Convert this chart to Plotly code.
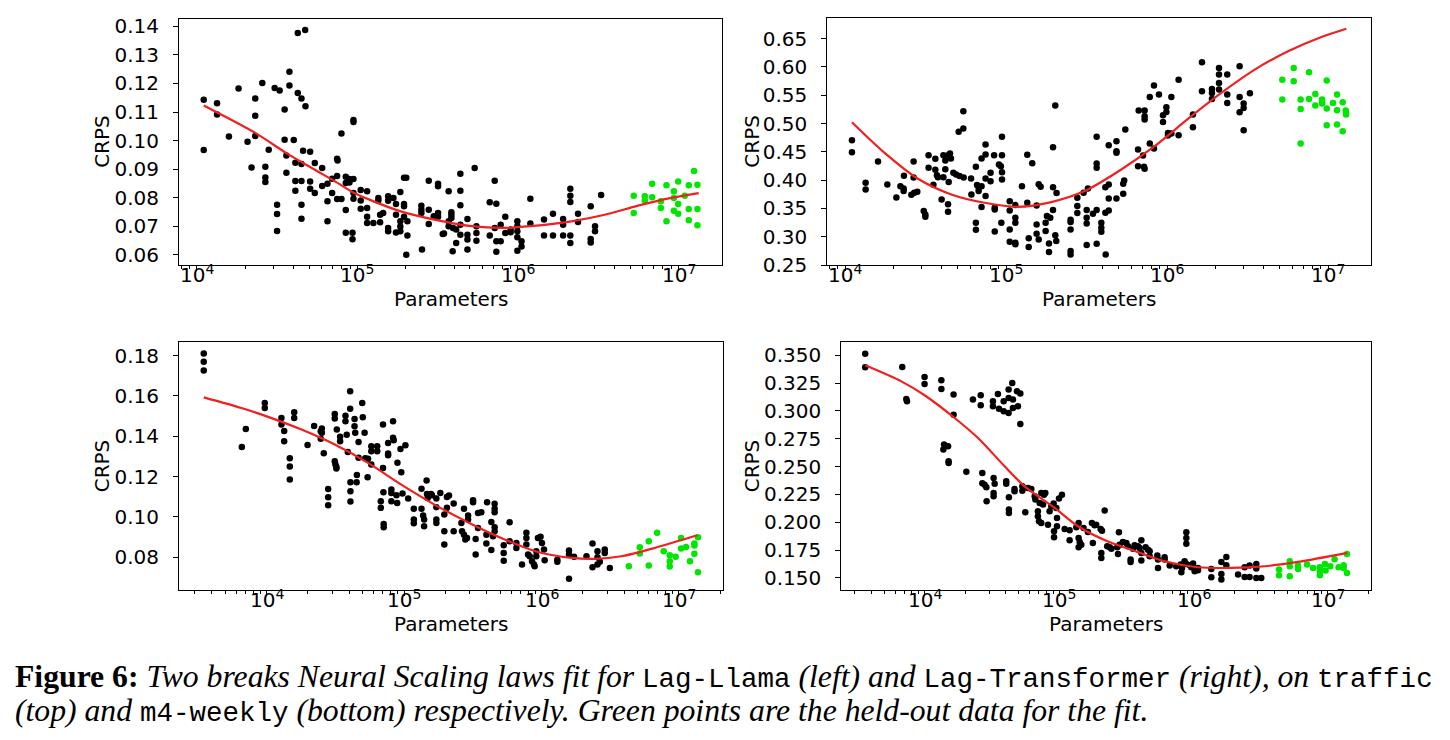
import numpy as np
import plotly.graph_objects as go

W, H = 1450, 740

# ---------------- data: (log10 parameters, CRPS) ----------------
# top-left: Lag-Llama on traffic
tl_black = [(4.042,0.1143),(4.042,0.0967),(4.125,0.1131),(4.125,0.1091),(4.199,0.1014),(4.259,0.1182),(4.315,0.0996),(4.340,0.0906),(4.363,0.1147),(4.363,0.1087),(4.363,0.1016),(4.407,0.1202),(4.426,0.0908),(4.426,0.0871),(4.426,0.0855),(4.447,0.0968),(4.484,0.1184),(4.499,0.0775),(4.499,0.0743),(4.499,0.0683),(4.515,0.1175),(4.546,0.1109),(4.546,0.1003),(4.557,0.0948),(4.557,0.0887),(4.576,0.1241),(4.576,0.1193),(4.603,0.1002),(4.613,0.0922),(4.613,0.0858),(4.613,0.0824),(4.628,0.1377),(4.628,0.1167),(4.651,0.1147),(4.651,0.0918),(4.651,0.0858),(4.651,0.0775),(4.651,0.0726),(4.661,0.0964),(4.674,0.1387),(4.676,0.1120),(4.705,0.0961),(4.705,0.0857),(4.705,0.0831),(4.734,0.0921),(4.734,0.0816),(4.780,0.0904),(4.780,0.0841),(4.813,0.0849),(4.813,0.0787),(4.813,0.0717),(4.842,0.0866),(4.842,0.0816),(4.873,0.0936),(4.876,0.0930),(4.873,0.0876),(4.873,0.0795),(4.900,0.1025),(4.900,0.0795),(4.927,0.0873),(4.927,0.0851),(4.927,0.0757),(4.927,0.0677),(4.950,0.0865),(4.950,0.0853),(4.969,0.0677),(4.969,0.0654),(4.975,0.1072),(4.975,0.1065),(4.975,0.0865),(4.975,0.0816),(4.975,0.0796),(5.020,0.0827),(5.020,0.0790),(5.020,0.0761),(5.060,0.0822),(5.060,0.0764),(5.060,0.0733),(5.060,0.0711),(5.099,0.0711),(5.130,0.0799),(5.130,0.0790),(5.141,0.0740),(5.141,0.0714),(5.160,0.0746),(5.191,0.0805),(5.191,0.0789),(5.191,0.0694),(5.191,0.0682),(5.224,0.0799),(5.240,0.0778),(5.240,0.0740),(5.240,0.0678),(5.267,0.0820),(5.267,0.0717),(5.267,0.0699),(5.267,0.0682),(5.290,0.0870),(5.304,0.0870),(5.290,0.0778),(5.290,0.0770),(5.290,0.0733),(5.311,0.0717),(5.311,0.0667),(5.304,0.0600),(5.398,0.0772),(5.398,0.0758),(5.398,0.0746),(5.402,0.0618),(5.444,0.0859),(5.444,0.0758),(5.444,0.0708),(5.475,0.0735),(5.502,0.0849),(5.502,0.0840),(5.502,0.0746),(5.502,0.0733),(5.531,0.0673),(5.568,0.0822),(5.585,0.0749),(5.585,0.0739),(5.585,0.0729),(5.568,0.0717),(5.568,0.0700),(5.539,0.0674),(5.595,0.0694),(5.615,0.0688),(5.615,0.0641),(5.593,0.0612),(5.641,0.0884),(5.641,0.0824),(5.641,0.0773),(5.641,0.0705),(5.641,0.0670),(5.685,0.0725),(5.685,0.0670),(5.685,0.0653),(5.685,0.0618),(5.730,0.0904),(5.741,0.0700),(5.741,0.0676),(5.741,0.0649),(5.824,0.0784),(5.824,0.0667),(5.855,0.0859),(5.865,0.0779),(5.855,0.0694),(5.865,0.0647),(5.865,0.0610),(5.892,0.0705),(5.892,0.0647),(5.921,0.0733),(5.921,0.0676),(5.954,0.0688),(5.954,0.0679),(5.996,0.0717),(5.996,0.0700),(5.996,0.0682),(5.996,0.0661),(5.996,0.0614),(6.022,0.0647),(6.022,0.0629),(6.077,0.0796),(6.077,0.0709),(6.162,0.0723),(6.162,0.0667),(6.218,0.0744),(6.218,0.0667),(6.281,0.0725),(6.281,0.0705),(6.281,0.0667),(6.326,0.0831),(6.326,0.0807),(6.326,0.0785),(6.326,0.0667),(6.326,0.0641),(6.374,0.0744),(6.374,0.0715),(6.453,0.0770),(6.453,0.0655),(6.453,0.0643),(6.480,0.0700),(6.480,0.0682),(6.518,0.0809)]
tl_green = [(6.721,0.0807),(6.721,0.0746),(6.790,0.0805),(6.790,0.0790),(6.836,0.0849),(6.836,0.0801),(6.890,0.0787),(6.890,0.0764),(6.925,0.0843),(6.925,0.0717),(6.971,0.0822),(6.971,0.0799),(6.971,0.0754),(6.998,0.0857),(6.998,0.0778),(6.998,0.0744),(7.039,0.0807),(7.064,0.0843),(7.064,0.0760),(7.064,0.0721),(7.097,0.0893),(7.118,0.0845),(7.118,0.0760),(7.118,0.0703)]
tl_fit = [(4.042,0.1123),(4.363,0.1027),(4.557,0.0956),(4.734,0.0898),(4.860,0.0857),(4.980,0.0816),(5.100,0.0787),(5.270,0.0752),(5.480,0.0723),(5.710,0.0700),(5.918,0.0694),(6.077,0.0700),(6.333,0.0717),(6.540,0.0740),(6.748,0.0772),(6.956,0.0799),(7.126,0.0816)]

# top-right: Lag-Transformer on traffic
tr_black = [(4.043,0.4706),(4.043,0.4494),(4.128,0.3953),(4.128,0.3835),(4.205,0.4329),(4.263,0.3924),(4.319,0.3694),(4.344,0.3894),(4.364,0.3853),(4.364,0.3806),(4.366,0.4076),(4.412,0.3741),(4.426,0.4329),(4.426,0.4047),(4.430,0.3776),(4.449,0.3794),(4.489,0.3453),(4.499,0.3394),(4.499,0.3353),(4.519,0.4441),(4.519,0.4218),(4.549,0.3918),(4.561,0.4376),(4.561,0.4182),(4.571,0.4088),(4.577,0.4053),(4.600,0.3659),(4.611,0.4441),(4.611,0.4053),(4.623,0.4194),(4.623,0.4347),(4.640,0.4441),(4.652,0.4471),(4.658,0.4382),(4.640,0.3576),(4.640,0.3441),(4.644,0.3965),(4.673,0.4129),(4.690,0.4100),(4.711,0.4071),(4.706,0.4853),(4.735,0.4912),(4.735,0.5218),(4.737,0.4047),(4.783,0.4029),(4.785,0.3747),(4.813,0.4235),(4.813,0.3247),(4.813,0.3124),(4.820,0.3912),(4.830,0.3865),(4.830,0.3806),(4.848,0.4382),(4.848,0.3894),(4.848,0.3524),(4.873,0.4453),(4.873,0.4629),(4.873,0.4029),(4.873,0.3718),(4.904,0.4129),(4.904,0.3982),(4.926,0.4441),(4.930,0.3482),(4.930,0.3512),(4.930,0.3094),(4.956,0.4276),(4.968,0.4247),(4.971,0.3247),(4.975,0.4765),(4.975,0.4441),(4.975,0.4141),(4.975,0.4012),(5.023,0.3629),(5.023,0.3465),(5.023,0.3129),(5.023,0.2912),(5.058,0.3559),(5.058,0.3335),(5.058,0.3247),(5.058,0.2894),(5.058,0.2865),(5.099,0.3894),(5.132,0.4447),(5.132,0.3600),(5.141,0.2971),(5.141,0.2818),(5.163,0.4300),(5.190,0.3553),(5.190,0.3218),(5.190,0.3053),(5.203,0.2953),(5.203,0.3929),(5.215,0.3882),(5.246,0.3247),(5.254,0.3365),(5.246,0.3100),(5.267,0.2882),(5.267,0.2729),(5.275,0.3335),(5.292,0.4582),(5.292,0.3876),(5.292,0.3471),(5.306,0.5318),(5.306,0.3024),(5.312,0.2924),(5.314,0.3771),(5.401,0.3300),(5.401,0.3259),(5.401,0.3129),(5.401,0.2747),(5.401,0.2688),(5.443,0.3688),(5.443,0.3541),(5.443,0.3418),(5.482,0.3776),(5.501,0.3471),(5.501,0.3335),(5.501,0.3235),(5.501,0.2853),(5.509,0.3853),(5.540,0.3406),(5.563,0.4765),(5.563,0.4294),(5.563,0.4218),(5.563,0.3471),(5.563,0.2876),(5.592,0.3247),(5.592,0.3159),(5.592,0.3088),(5.617,0.3876),(5.617,0.3424),(5.619,0.2688),(5.638,0.4618),(5.638,0.3924),(5.638,0.3676),(5.638,0.3465),(5.686,0.4688),(5.686,0.4512),(5.686,0.4482),(5.686,0.3676),(5.728,0.3935),(5.734,0.3994),(5.728,0.3759),(5.741,0.4894),(5.820,0.4541),(5.820,0.4247),(5.824,0.5229),(5.851,0.4435),(5.857,0.4235),(5.861,0.4200),(5.861,0.5229),(5.861,0.5129),(5.861,0.5071),(5.893,0.5471),(5.893,0.4647),(5.919,0.5671),(5.919,0.4559),(5.950,0.5512),(5.975,0.5147),(5.975,0.5029),(5.996,0.5288),(5.996,0.5206),(6.006,0.4835),(6.006,0.4788),(6.027,0.5471),(6.027,0.4824),(6.072,0.5776),(6.072,0.4794),(6.161,0.5159),(6.161,0.4935),(6.217,0.6082),(6.217,0.5571),(6.279,0.5612),(6.279,0.5541),(6.279,0.5435),(6.323,0.5982),(6.323,0.5865),(6.323,0.5718),(6.323,0.5600),(6.374,0.5865),(6.374,0.5512),(6.374,0.5365),(6.451,0.6012),(6.451,0.5471),(6.451,0.5200),(6.476,0.5353),(6.476,0.5276),(6.476,0.4882),(6.515,0.5535)]
tr_green = [(6.716,0.5776),(6.716,0.5424),(6.787,0.5982),(6.787,0.5747),(6.830,0.5424),(6.830,0.5259),(6.830,0.4647),(6.882,0.5906),(6.882,0.5435),(6.921,0.5524),(6.921,0.5318),(6.963,0.5424),(6.963,0.5376),(6.963,0.5353),(6.992,0.5759),(6.992,0.5265),(6.992,0.4971),(7.031,0.5365),(7.056,0.5512),(7.056,0.5235),(7.056,0.4982),(7.091,0.5376),(7.091,0.4865),(7.110,0.5229),(7.112,0.5188),(7.112,0.5159)]
tr_fit = [(4.043,0.5024),(4.246,0.4482),(4.453,0.4024),(4.660,0.3747),(4.867,0.3600),(5.074,0.3529),(5.281,0.3612),(5.488,0.3806),(5.716,0.4188),(5.923,0.4600),(6.130,0.5082),(6.337,0.5541),(6.545,0.5953),(6.752,0.6276),(6.959,0.6529),(7.114,0.6676)]

# bottom-left: Lag-Llama on m4-weekly
bl_black = [(3.543,0.1810),(3.543,0.1769),(3.543,0.1726),(3.820,0.1347),(3.849,0.1436),(3.987,0.1565),(3.987,0.1540),(4.108,0.1491),(4.108,0.1458),(4.128,0.1426),(4.128,0.1375),(4.169,0.1291),(4.169,0.1250),(4.169,0.1185),(4.201,0.1519),(4.201,0.1491),(4.298,0.1357),(4.346,0.1451),(4.394,0.1425),(4.402,0.1438),(4.402,0.1417),(4.394,0.1388),(4.416,0.1316),(4.448,0.1138),(4.448,0.1098),(4.448,0.1058),(4.496,0.1511),(4.496,0.1488),(4.496,0.1276),(4.501,0.1260),(4.508,0.1248),(4.508,0.1240),(4.511,0.1433),(4.535,0.1397),(4.535,0.1375),(4.574,0.1502),(4.574,0.1474),(4.583,0.1407),(4.591,0.1322),(4.608,0.1623),(4.608,0.1536),(4.610,0.1172),(4.610,0.1127),(4.610,0.1076),(4.640,0.1486),(4.640,0.1450),(4.645,0.1417),(4.655,0.1172),(4.657,0.1208),(4.669,0.1372),(4.669,0.1293),(4.696,0.1565),(4.700,0.1494),(4.713,0.1417),(4.718,0.1291),(4.738,0.1288),(4.735,0.1197),(4.762,0.1350),(4.762,0.1326),(4.762,0.1260),(4.805,0.1350),(4.805,0.1326),(4.847,0.1458),(4.847,0.1243),(4.831,0.1078),(4.831,0.1045),(4.850,0.1122),(4.852,0.0965),(4.852,0.0949),(4.884,0.1367),(4.884,0.1314),(4.884,0.1306),(4.908,0.1136),(4.908,0.1119),(4.908,0.1078),(4.920,0.1474),(4.920,0.1392),(4.925,0.1380),(4.952,0.1268),(4.945,0.1108),(4.950,0.1069),(4.974,0.1337),(4.980,0.1221),(4.989,0.1116),(5.010,0.1355),(5.030,0.1091),(5.071,0.1040),(5.071,0.0987),(5.071,0.0969),(5.127,0.1140),(5.127,0.1040),(5.139,0.1007),(5.146,0.0987),(5.146,0.0954),(5.164,0.1180),(5.167,0.1114),(5.172,0.1094),(5.196,0.1114),(5.203,0.1108),(5.235,0.1048),(5.235,0.0987),(5.235,0.0970),(5.235,0.1091),(5.264,0.1119),(5.293,0.0929),(5.293,0.0863),(5.293,0.1012),(5.312,0.1099),(5.312,0.1045),(5.327,0.1106),(5.361,0.1066),(5.361,0.0929),(5.417,0.0970),(5.422,0.0929),(5.436,0.0912),(5.436,0.1040),(5.446,0.0888),(5.458,0.0896),(5.466,0.1007),(5.466,0.0987),(5.502,0.1083),(5.502,0.1073),(5.521,0.0891),(5.521,0.0813),(5.538,0.1020),(5.562,0.1023),(5.538,0.0945),(5.604,0.1073),(5.599,0.0912),(5.599,0.0868),(5.635,0.0975),(5.635,0.0836),(5.659,0.1065),(5.659,0.1041),(5.659,0.1023),(5.659,0.0949),(5.659,0.0929),(5.647,0.0904),(5.725,0.0860),(5.725,0.0821),(5.725,0.0783),(5.768,0.0974),(5.768,0.0879),(5.817,0.0871),(5.817,0.0846),(5.858,0.0764),(5.890,0.0921),(5.890,0.0896),(5.890,0.0863),(5.902,0.0813),(5.914,0.0805),(5.931,0.0780),(5.945,0.0764),(5.950,0.0755),(5.962,0.0830),(5.962,0.0805),(5.974,0.0896),(5.993,0.0901),(6.003,0.0871),(6.018,0.0838),(6.023,0.0785),(6.115,0.0788),(6.115,0.0777),(6.200,0.0833),(6.200,0.0813),(6.200,0.0693),(6.237,0.0802),(6.327,0.0805),(6.371,0.0868),(6.371,0.0750),(6.407,0.0830),(6.407,0.0800),(6.407,0.0764),(6.424,0.0777),(6.460,0.0838),(6.460,0.0821),(6.497,0.0747)]
bl_green = [(6.635,0.0755),(6.715,0.0850),(6.715,0.0818),(6.780,0.0879),(6.780,0.0759),(6.841,0.0921),(6.889,0.0830),(6.933,0.0810),(6.933,0.0780),(6.933,0.0754),(6.976,0.0802),(7.015,0.0896),(7.015,0.0843),(7.051,0.0851),(7.080,0.0780),(7.112,0.0868),(7.112,0.0858),(7.112,0.0817),(7.138,0.0899),(7.138,0.0726)]
bl_fit = [(3.543,0.1593),(3.818,0.1540),(4.011,0.1496),(4.254,0.1433),(4.496,0.1359),(4.738,0.1268),(4.980,0.1160),(5.222,0.1061),(5.489,0.0965),(5.732,0.0888),(5.974,0.0826),(6.217,0.0797),(6.387,0.0792),(6.581,0.0805),(6.823,0.0846),(7.133,0.0909)]

# bottom-right: Lag-Transformer on m4-weekly
br_black = [(3.555,0.3515),(3.555,0.3392),(3.831,0.3395),(3.861,0.3108),(3.866,0.3087),(3.997,0.3305),(3.997,0.3243),(4.122,0.3275),(4.122,0.3198),(4.142,0.2698),(4.137,0.2653),(4.172,0.2683),(4.176,0.2548),(4.176,0.2533),(4.213,0.3147),(4.213,0.2967),(4.308,0.2455),(4.357,0.3102),(4.415,0.3141),(4.415,0.3051),(4.427,0.2443),(4.427,0.2350),(4.444,0.2338),(4.457,0.2314),(4.459,0.2189),(4.506,0.3087),(4.506,0.3042),(4.511,0.2398),(4.519,0.2347),(4.511,0.2263),(4.511,0.2234),(4.543,0.3153),(4.551,0.3021),(4.586,0.3087),(4.586,0.2997),(4.605,0.2368),(4.605,0.2347),(4.623,0.3192),(4.623,0.3117),(4.623,0.2982),(4.625,0.2225),(4.625,0.2114),(4.625,0.2084),(4.650,0.3251),(4.655,0.3102),(4.655,0.3027),(4.667,0.2299),(4.667,0.2278),(4.685,0.3177),(4.692,0.3042),(4.710,0.3156),(4.710,0.2883),(4.725,0.2323),(4.725,0.2284),(4.747,0.2090),(4.767,0.2308),(4.792,0.2299),(4.817,0.2234),(4.822,0.2204),(4.841,0.2099),(4.841,0.2054),(4.849,0.2009),(4.866,0.1994),(4.866,0.2263),(4.886,0.2248),(4.896,0.2263),(4.854,0.2174),(4.879,0.2159),(4.916,0.1979),(4.928,0.2099),(4.941,0.2144),(4.958,0.2168),(4.961,0.1919),(4.961,0.1865),(4.978,0.2129),(4.983,0.2039),(4.983,0.1964),(4.998,0.2213),(5.020,0.2248),(5.040,0.1940),(5.077,0.1928),(5.077,0.1838),(5.127,0.1955),(5.144,0.1994),(5.144,0.1859),(5.152,0.1823),(5.164,0.1799),(5.144,0.1775),(5.181,0.1949),(5.213,0.1913),(5.243,0.1994),(5.263,0.1973),(5.250,0.1814),(5.275,0.1979),(5.308,0.1940),(5.318,0.1925),(5.313,0.1725),(5.313,0.1680),(5.338,0.2105),(5.357,0.1784),(5.375,0.1775),(5.388,0.1763),(5.432,0.1775),(5.449,0.1799),(5.444,0.1910),(5.437,0.1716),(5.474,0.1823),(5.499,0.1814),(5.512,0.1784),(5.531,0.1665),(5.531,0.1644),(5.549,0.1763),(5.561,0.1793),(5.586,0.1784),(5.598,0.1769),(5.611,0.1838),(5.611,0.1725),(5.611,0.1656),(5.643,0.1775),(5.661,0.1754),(5.673,0.1739),(5.673,0.1695),(5.730,0.1701),(5.735,0.1665),(5.735,0.1590),(5.784,0.1686),(5.784,0.1665),(5.822,0.1611),(5.871,0.1605),(5.904,0.1620),(5.914,0.1590),(5.909,0.1551),(5.933,0.1650),(5.946,0.1626),(5.946,0.1910),(5.946,0.1859),(5.946,0.1808),(5.971,0.1614),(5.983,0.1596),(6.008,0.1560),(5.996,0.1629),(6.033,0.1590),(6.033,0.1569),(6.132,0.1581),(6.132,0.1506),(6.207,0.1644),(6.207,0.1536),(6.207,0.1485),(6.244,0.1689),(6.244,0.1614),(6.331,0.1530),(6.380,0.1596),(6.380,0.1509),(6.417,0.1611),(6.417,0.1509),(6.467,0.1626),(6.467,0.1584),(6.467,0.1500),(6.504,0.1500)]
br_green = [(6.636,0.1575),(6.636,0.1524),(6.716,0.1650),(6.716,0.1605),(6.716,0.1515),(6.778,0.1611),(6.778,0.1581),(6.845,0.1620),(6.890,0.1590),(6.940,0.1596),(6.940,0.1560),(6.940,0.1524),(6.978,0.1626),(6.983,0.1566),(7.018,0.1605),(7.050,0.1668),(7.080,0.1596),(7.117,0.1614),(7.117,0.1590),(7.142,0.1716),(7.142,0.1545)]
br_fit = [(3.555,0.3410),(3.824,0.3266),(3.997,0.3141),(4.221,0.2937),(4.395,0.2757),(4.593,0.2503),(4.742,0.2323),(4.966,0.2129),(5.140,0.1964),(5.358,0.1829),(5.536,0.1754),(5.784,0.1650),(6.033,0.1596),(6.281,0.1590),(6.529,0.1605),(6.778,0.1644),(7.145,0.1725)]

x_tick_exponents = [4, 5, 6, 7]
x_axis_title = "Parameters"
y_axis_title = "CRPS"

MONO = "<span style='font-family:Liberation Mono;font-size:27.5px'>{}</span>"
caption_line1 = ("<b>Figure 6:</b> <i>Two breaks Neural Scaling laws fit for </i>"
                 + MONO.format("Lag-Llama") + "<i> (left) and </i>"
                 + MONO.format("Lag-Transformer") + "<i> (right), on </i>"
                 + MONO.format("traffic"))
caption_line2 = ("<i>(top) and </i>" + MONO.format("m4-weekly")
                 + "<i> (bottom) respectively. Green points are the held-out data for the fit.</i>")

# ---------------- layout of the four panels (pixels) ----------------
panels = [
    dict(black=tl_black, green=tl_green, fit=tl_fit, px=(171, 714), py=(10.7, 257.0),
         xr=(3.888, 7.271), yr=(0.0564, 0.1427), dtick=0.01, fmt=".2f", ylab_x=94),
    dict(black=tr_black, green=tr_green, fit=tr_fit, px=(819.3, 1363), py=(10.0, 257.3),
         xr=(3.890, 7.267), yr=(0.2495, 0.6865), dtick=0.05, fmt=".2f", ylab_x=744),
    dict(black=bl_black, green=bl_green, fit=bl_fit, px=(171, 714.7), py=(334.3, 582.3),
         xr=(3.363, 7.318), yr=(0.0636, 0.1866), dtick=0.02, fmt=".2f", ylab_x=94),
    dict(black=br_black, green=br_green, fit=br_fit, px=(833.3, 1363), py=(334.3, 582.3),
         xr=(3.377, 7.321), yr=(0.1389, 0.3617), dtick=0.025, fmt=".3f", ylab_x=744),
]

TEXT_FONT = dict(family="DejaVu Sans", size=20, color="black")
minor_vals = [k * 10.0 ** e for e in range(3, 8) for k in range(2, 10)]

fig = go.Figure()
annotations = []
for i, p in enumerate(panels, start=1):
    xa = "x" if i == 1 else f"x{i}"
    ya = "y" if i == 1 else f"y{i}"
    bx, by = zip(*p["black"])
    gx, gy = zip(*p["green"])
    fx, fy = zip(*p["fit"])
    fig.add_trace(go.Scatter(x=10 ** np.array(bx), y=by, mode="markers", xaxis=xa, yaxis=ya,
                             marker=dict(color="black", size=6.5, line=dict(width=0)),
                             showlegend=False, hoverinfo="skip"))
    fig.add_trace(go.Scatter(x=10 ** np.array(gx), y=gy, mode="markers", xaxis=xa, yaxis=ya,
                             marker=dict(color="#00e600", size=6.5, line=dict(width=0)),
                             showlegend=False, hoverinfo="skip"))
    fig.add_trace(go.Scatter(x=10 ** np.array(fx), y=fy, mode="lines", xaxis=xa, yaxis=ya,
                             line=dict(color="#f02020", width=2.2, shape="spline", smoothing=0.8),
                             showlegend=False, hoverinfo="skip"))
    xdom = [p["px"][0] / W, p["px"][1] / W]
    ydom = [1 - p["py"][1] / H, 1 - p["py"][0] / H]
    axis_common = dict(showline=True, mirror=True, linecolor="black", linewidth=1,
                       showgrid=False, zeroline=False, ticks="outside", tickcolor="black",
                       tickwidth=1, ticklen=5, tickfont=TEXT_FONT, automargin=False)
    fig.update_layout(**{
        ("xaxis" if i == 1 else f"xaxis{i}"): dict(
            type="log", domain=xdom, range=list(p["xr"]), anchor=ya,
            tickvals=[10.0 ** e for e in x_tick_exponents], showticklabels=False,
            minor=dict(tickvals=minor_vals, ticks="outside", ticklen=3, tickcolor="black", tickwidth=1),
            **axis_common),
        ("yaxis" if i == 1 else f"yaxis{i}"): dict(
            domain=ydom, range=list(p["yr"]), anchor=xa, dtick=p["dtick"], tick0=0,
            tickformat=p["fmt"], ticklabelstandoff=10, **axis_common),
    })
    # x tick labels (10^e) placed at the axis' own tick positions
    for e in x_tick_exponents:
        annotations.append(dict(text=f"10<sup>{e}</sup>", x=e, xref=xa,
                                y=1 - (p["py"][1] + 9) / H, yref="paper",
                                showarrow=False, xanchor="center", yanchor="middle",
                                font=TEXT_FONT))
    cx = (p["px"][0] + p["px"][1]) / 2
    cy = (p["py"][0] + p["py"][1]) / 2
    annotations.append(dict(text=x_axis_title, x=cx / W, y=1 - (p["py"][1] + 34) / H,
                            xref="paper", yref="paper", showarrow=False,
                            xanchor="center", yanchor="middle", font=TEXT_FONT))
    annotations.append(dict(text=y_axis_title, x=p["ylab_x"] / W, y=1 - cy / H,
                            xref="paper", yref="paper", showarrow=False, textangle=-90,
                            xanchor="center", yanchor="middle", font=TEXT_FONT))

annotations.append(dict(text=caption_line1, x=5 / W, y=1 - 669 / H, xref="paper", yref="paper",
                        showarrow=False, xanchor="left", yanchor="middle", align="left",
                        font=dict(family="Liberation Serif", size=31.7, color="black")))
annotations.append(dict(text=caption_line2, x=5 / W, y=1 - 703 / H, xref="paper", yref="paper",
                        showarrow=False, xanchor="left", yanchor="middle", align="left",
                        font=dict(family="Liberation Serif", size=31.7, color="black")))

fig.update_layout(width=W, height=H, margin=dict(l=0, r=0, t=0, b=0),
                  paper_bgcolor="white", plot_bgcolor="white",
                  annotations=annotations, showlegend=False)

fig.write_html("out.html")
